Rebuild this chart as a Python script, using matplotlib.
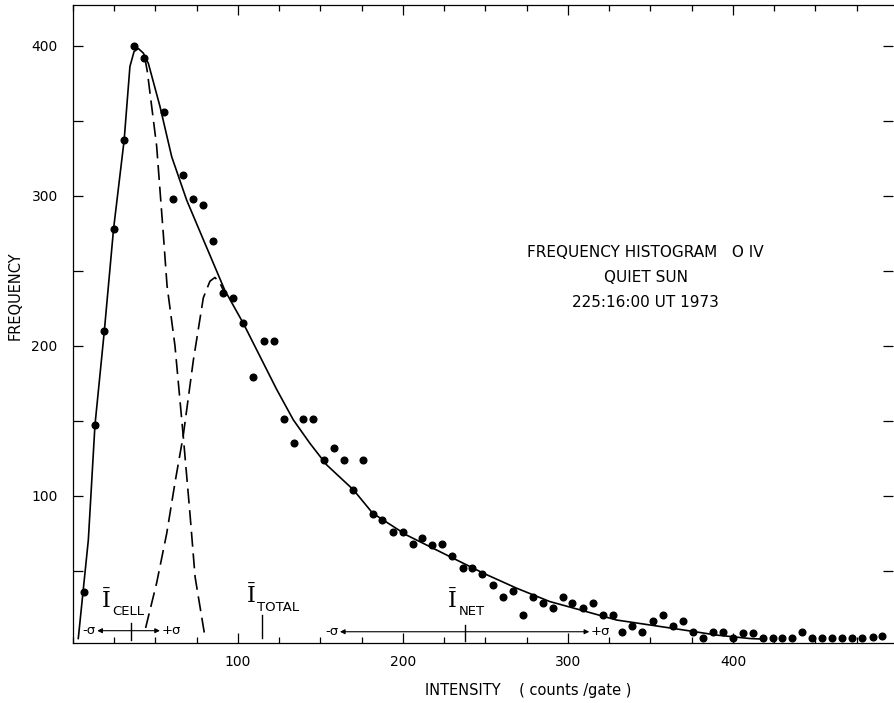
import matplotlib
matplotlib.use("Agg")
import matplotlib.pyplot as plt
from matplotlib.ticker import MultipleLocator

# histogram points (intensity bin, frequency)
intensity = [6.7, 13.3, 19, 24.6, 31, 37, 43, 55.3, 60.4, 66.7, 72.5, 78.6, 84.6, 91, 97,
             103.2, 109.3, 116, 121.8, 128, 134, 139.6, 145.5, 152, 158, 164, 170, 176,
             181.6, 187.5, 193.7, 199.8, 205.9, 211.7, 217.8, 223.8, 229.7, 236.2, 242,
             247.9, 254.5, 260.6, 266.5, 272.5, 278.6, 284.6, 290.7, 296.8, 302.6, 308.9,
             315.3, 321.4, 327, 333, 339, 345, 351.7, 357.8, 363.8, 370, 376, 382, 387.7,
             393.7, 399.8, 405.9, 412, 418, 424, 430, 436, 442, 448, 454, 460, 466, 472,
             478.2, 484.6, 490.3]
frequency = [36, 147, 210, 278, 337, 400, 392, 356, 298, 314, 298, 294, 270, 235, 232,
             215, 179.5, 203, 203, 151, 135, 151, 151, 123.6, 132, 124, 104, 124,
             88, 84, 76, 76, 68, 72, 67.6, 68, 60, 52.2, 52.2,
             48.2, 40.4, 32.4, 36.4, 20.7, 32.4, 28.9, 25.3, 32.7, 28.9, 25.3,
             28.9, 20.7, 20.7, 9, 13, 9, 16.7, 20.7, 13, 16.7, 9, 5.1, 9,
             9, 5.1, 8.9, 8.9, 5, 5, 5, 5, 9.6, 5, 5, 5, 5, 5,
             5, 6.2, 6.7]

# total fit (solid curve)
total_x = [3.2, 9.3, 13.3, 19, 24.6, 31, 34.5, 37, 39.6, 42.6, 45.7, 52.7, 59.8, 68.9,
           79, 92, 103.2, 113.3, 123.4, 133.5, 143.6, 153.7, 170, 181.6, 202, 228.5,
           248.7, 268.9, 289, 309.2, 329.5, 349.7, 369.9, 390, 410, 420]
total_y = [5, 70.7, 147, 210, 278, 337, 386, 396, 398, 395, 388, 359.5, 326, 297,
           270.7, 237, 215, 193, 171, 150.7, 135, 120.7, 104, 88.5, 74, 59.5,
           48.5, 38.5, 29.6, 23.5, 17.3, 14, 10.7, 7.3, 5, 4.5]

# cell component (dashed, falling side)
cell_x = [43.5, 45, 50.7, 54.7, 57, 61.8, 66.8, 70.9, 74, 80]
cell_y = [392, 383, 333, 275, 240, 200, 140, 88, 46, 6]

# network component (dashed, rising side)
net_x = [44, 50.7, 56.8, 62, 66.8, 72.9, 79, 83, 86, 89, 91.5]
net_y = [12, 42, 75, 110, 140, 190, 232, 243, 245.5, 242, 236]

# mean intensities and sigma ranges
cell_mean, cell_lo, cell_hi = 35, 14.7, 52.7
total_mean = 114.4
net_mean, net_lo, net_hi = 237.6, 161.8, 312.9

TITLE_LINES = ["FREQUENCY HISTOGRAM   O IV", "QUIET SUN", "225:16:00 UT 1973"]


def draw_mean_label(ax, x, y, sub):
    ax.text(x, y, "\u012a", family="DejaVu Serif", fontsize=16, ha="center", va="center")
    ax.text(x + 3.5, y - 3, sub, fontsize=9.5, ha="left", va="top")


def draw_sigma_bar(ax, center, lo, hi, y, tick_top):
    ax.annotate("", xy=(lo, y), xytext=(hi, y),
                arrowprops=dict(arrowstyle="<|-|>", lw=0.8, color="black",
                                mutation_scale=7, shrinkA=0, shrinkB=0))
    ax.plot([center, center], [y - 6, tick_top], color="black", lw=1)
    ax.text(lo - 1, y, "-\u03c3", fontsize=9.5, ha="right", va="center")
    ax.text(hi + 1, y, "+\u03c3", fontsize=9.5, ha="left", va="center")


def main():
    fig = plt.figure(figsize=(8.94, 7.03), dpi=100)
    ax = fig.add_axes([73 / 894, 60 / 703, 820 / 894, 638 / 703])

    ax.plot(intensity, frequency, "o", color="black", markersize=4.8)
    ax.plot(total_x, total_y, color="black", lw=1.2)
    ax.plot(cell_x, cell_y, color="black", lw=1.2, linestyle=(0, (9, 4)))
    ax.plot(net_x, net_y, color="black", lw=1.2, linestyle=(0, (9, 4)))

    draw_mean_label(ax, 20, 30, "CELL")
    draw_sigma_bar(ax, cell_mean, cell_lo, cell_hi, 10.2, 15)

    draw_mean_label(ax, 108, 33, "TOTAL")
    ax.plot([total_mean, total_mean], [5, 20.7], color="black", lw=1)

    draw_mean_label(ax, 230, 30, "NET")
    draw_sigma_bar(ax, net_mean, net_lo, net_hi, 9.5, 14)

    for i, line in enumerate(TITLE_LINES):
        ax.text(347, 262 - i * 16.5, line, fontsize=11, ha="center", va="center")

    ax.set_xlim(0, 497)
    ax.set_ylim(2, 427)
    ax.set_xticks([100, 200, 300, 400])
    ax.set_yticks([100, 200, 300, 400])
    ax.xaxis.set_minor_locator(MultipleLocator(25))
    ax.yaxis.set_minor_locator(MultipleLocator(50))
    ax.tick_params(which="both", direction="in", top=True, right=True, labelsize=10, width=0.9)
    ax.tick_params(axis="x", which="major", length=7, pad=9)
    ax.tick_params(axis="x", which="minor", length=4.5)
    ax.tick_params(axis="y", which="both", length=7.5, pad=11)
    ax.spines["right"].set_visible(False)
    for side in ["left", "top", "bottom"]:
        ax.spines[side].set_linewidth(0.9)

    fig.text(528 / 894, 1 - 690 / 703, "INTENSITY    ( counts /gate )", fontsize=10.5,
             ha="center", va="center")
    fig.text(15 / 894, 1 - 296 / 703, "FREQUENCY", fontsize=10.5, rotation=90,
             ha="center", va="center")

    fig.savefig("out.png", dpi=100)
    plt.close(fig)


if __name__ == "__main__":
    main()
